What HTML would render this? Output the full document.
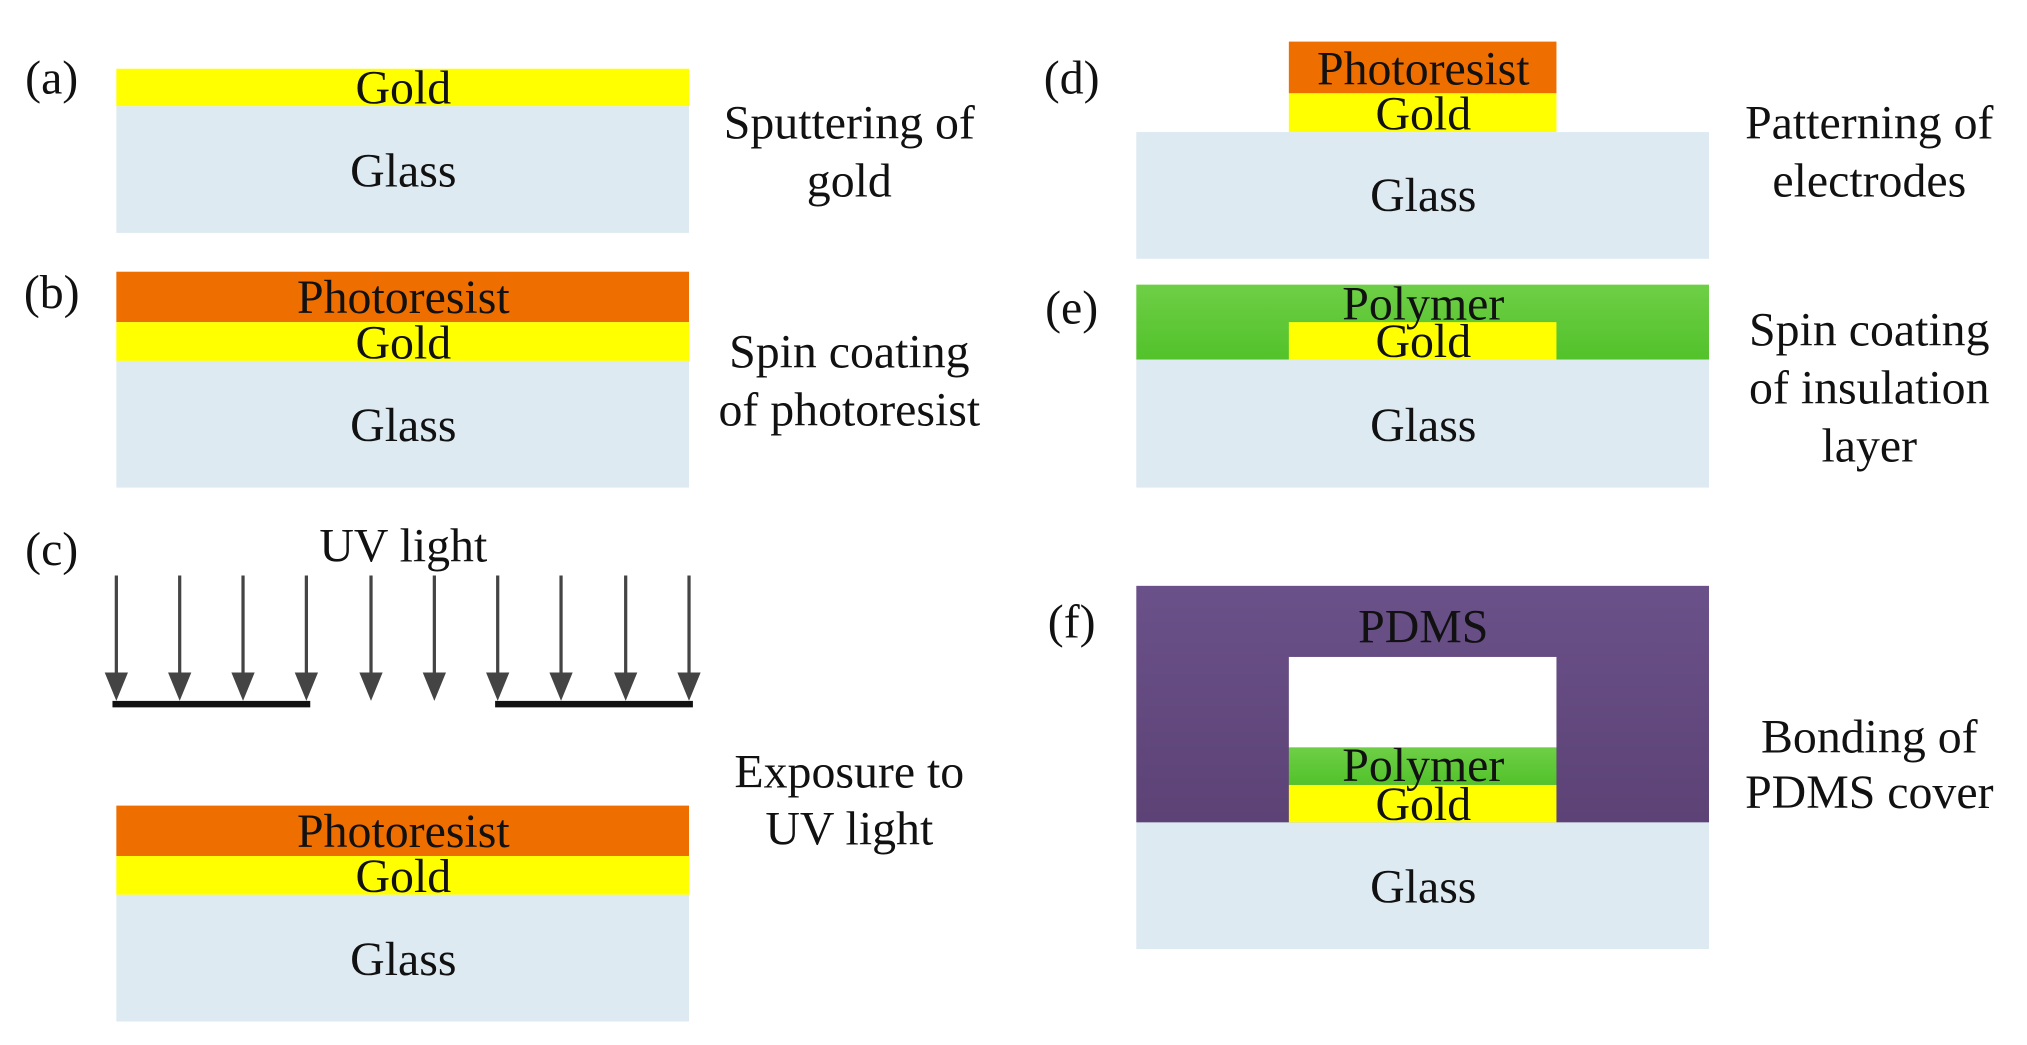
<!DOCTYPE html>
<html><head><meta charset="utf-8"><style>html,body{margin:0;padding:0;background:#fff}svg{display:block}</style></head>
<body>
<svg width="2027" height="1045" viewBox="0 0 1568 808" xmlns="http://www.w3.org/2000/svg">
<defs>
<linearGradient id="pd" x1="0" y1="0" x2="0" y2="1"><stop offset="0" stop-color="#6a5189"/><stop offset="1" stop-color="#5c4275"/></linearGradient>
<linearGradient id="pg" x1="0" y1="0" x2="0" y2="1"><stop offset="0" stop-color="#6ecf46"/><stop offset="1" stop-color="#52c22a"/></linearGradient>
</defs>
<g font-family="Liberation Serif, serif" font-size="37" fill="#111" text-anchor="middle">
<!-- (a) -->
<rect x="90" y="53" width="443" height="29" fill="#ffff00"/>
<rect x="90" y="82" width="443" height="98" fill="#ddeaf2"/>
<text x="312" y="80">Gold</text><text x="312" y="144">Glass</text>
<text x="40" y="72">(a)</text>
<text x="657" y="107">Sputtering of</text><text x="657" y="152">gold</text>
<!-- (b) -->
<rect x="90" y="210" width="443" height="39" fill="#ee6e00"/>
<rect x="90" y="249" width="443" height="30" fill="#ffff00"/>
<rect x="90" y="279" width="443" height="98" fill="#ddeaf2"/>
<text x="312" y="242">Photoresist</text><text x="312" y="277">Gold</text><text x="312" y="341">Glass</text>
<text x="40" y="238">(b)</text>
<text x="657" y="284">Spin coating</text><text x="657" y="329">of photoresist</text>
<!-- (c) -->
<text x="40" y="437">(c)</text>
<text x="312" y="434">UV light</text>
<g stroke="#444" stroke-width="2.5">
<line x1="90" y1="445" x2="90" y2="530"/><line x1="139" y1="445" x2="139" y2="530"/><line x1="188" y1="445" x2="188" y2="530"/><line x1="237" y1="445" x2="237" y2="530"/><line x1="287" y1="445" x2="287" y2="530"/><line x1="336" y1="445" x2="336" y2="530"/><line x1="385" y1="445" x2="385" y2="530"/><line x1="434" y1="445" x2="434" y2="530"/><line x1="484" y1="445" x2="484" y2="530"/><line x1="533" y1="445" x2="533" y2="530"/>
</g>
<g fill="#444">
<polygon points="81,520 99,520 90,542"/><polygon points="130,520 148,520 139,542"/><polygon points="179,520 197,520 188,542"/><polygon points="228,520 246,520 237,542"/><polygon points="278,520 296,520 287,542"/><polygon points="327,520 345,520 336,542"/><polygon points="376,520 394,520 385,542"/><polygon points="425,520 443,520 434,542"/><polygon points="475,520 493,520 484,542"/><polygon points="524,520 542,520 533,542"/>
</g>
<rect x="87" y="542" width="153" height="5" fill="#111"/>
<rect x="383" y="542" width="153" height="5" fill="#111"/>
<rect x="90" y="623" width="443" height="39" fill="#ee6e00"/>
<rect x="90" y="662" width="443" height="30" fill="#ffff00"/>
<rect x="90" y="692" width="443" height="98" fill="#ddeaf2"/>
<text x="312" y="655">Photoresist</text><text x="312" y="690">Gold</text><text x="312" y="754">Glass</text>
<text x="657" y="609">Exposure to</text><text x="657" y="653">UV light</text>
<!-- (d) -->
<text x="829" y="72">(d)</text>
<rect x="997" y="32" width="207" height="40" fill="#ee6e00"/>
<rect x="997" y="72" width="207" height="30" fill="#ffff00"/>
<rect x="879" y="102" width="443" height="98" fill="#ddeaf2"/>
<text x="1101" y="65">Photoresist</text><text x="1101" y="100">Gold</text><text x="1101" y="163">Glass</text>
<text x="1446" y="107">Patterning of</text><text x="1446" y="152">electrodes</text>
<!-- (e) -->
<text x="829" y="250">(e)</text>
<rect x="879" y="220" width="443" height="58" fill="url(#pg)"/>
<rect x="997" y="249" width="207" height="29" fill="#ffff00"/>
<rect x="879" y="278" width="443" height="99" fill="#ddeaf2"/>
<text x="1101" y="247">Polymer</text><text x="1101" y="276">Gold</text><text x="1101" y="341">Glass</text>
<text x="1446" y="267">Spin coating</text><text x="1446" y="312">of insulation</text><text x="1446" y="357">layer</text>
<!-- (f) -->
<text x="829" y="493">(f)</text>
<rect x="879" y="453" width="443" height="183" fill="url(#pd)"/>
<rect x="997" y="508" width="207" height="70" fill="#fff"/>
<rect x="997" y="578" width="207" height="29" fill="url(#pg)"/>
<rect x="997" y="607" width="207" height="29" fill="#ffff00"/>
<rect x="879" y="636" width="443" height="98" fill="#ddeaf2"/>
<text x="1101" y="497">PDMS</text><text x="1101" y="604">Polymer</text><text x="1101" y="634">Gold</text><text x="1101" y="698">Glass</text>
<text x="1446" y="582">Bonding of</text><text x="1446" y="625">PDMS cover</text>
</g>
</svg>
</body></html>
